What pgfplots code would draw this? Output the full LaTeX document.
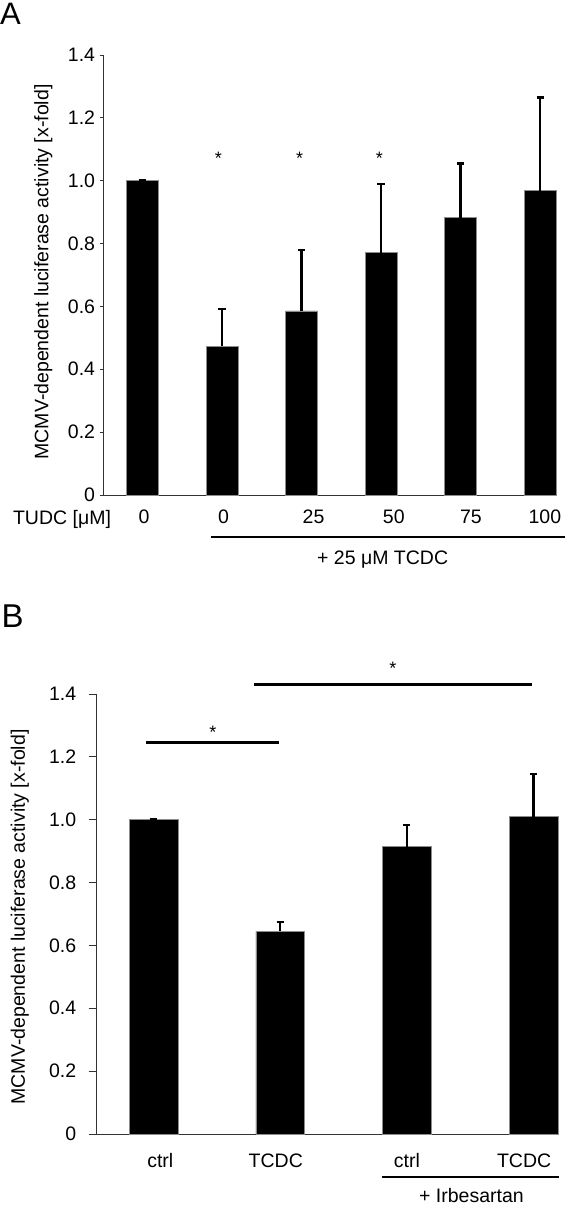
\documentclass[border=0pt]{standalone}
\usepackage{fontspec}
\setmainfont{Liberation Sans}
\usepackage{pgfplots}
\pgfplotsset{compat=1.18}
\tikzset{sigstar/.style={font=\fontsize{18}{18}\selectfont, yshift=-4pt}}
\pgfplotsset{
  mybars/.style={
    scale only axis, anchor=south west, height=440pt,
    ymin=0, ymax=1.4,
    axis x line=bottom, axis y line=left,
    axis line style={-, line width=0.8pt, black!80},
    ytick={0,0.2,0.4,0.6,0.8,1.0,1.2,1.4},
    yticklabels={0,0.2,0.4,0.6,0.8,1.0,1.2,1.4},
    tick align=outside, major tick length=4pt,
    y tick style={black!80, line width=0.8pt},
    x tick style={draw=none},
    ticklabel style={font=\fontsize{19.5}{21}\selectfont},
    xticklabel style={anchor=base, yshift=-25pt},
    clip=false, ybar,
  },
  errstyle/.style={fill=black, draw=black!45, line width=0.6pt,
    error bars/.cd, y dir=plus, y explicit,
    error bar style={line width=2.2pt, black},
    error mark options={rotate=90, mark size=3.6pt, line width=2.4pt, black}},
}
\begin{document}
\begin{tikzpicture}
\useasboundingbox (0pt,0pt) rectangle (566pt,1206pt);
% Panel letters
\node[font=\fontsize{31}{31}\selectfont, anchor=north west, inner sep=0pt] at (0pt,1202.7pt) {A};
\node[font=\fontsize{33}{33}\selectfont, anchor=north west, inner sep=0pt] at (1.5pt,601pt) {B};
% ----- Panel A -----
\begin{axis}[mybars, at={(103.6pt,711pt)}, width=452.4pt,
  xmin=-0.49, xmax=5.2, bar width=32pt,
  yticklabel style={xshift=-1pt},
  xtick={0.02,1.02,2.15,3.16,4.13,5.06}, xticklabels={0,0,25,50,75,100}]
\addplot[errstyle] coordinates {
 (0,1.0)   +- (0,0.003)
 (1,0.474) +- (0,0.118)
 (2,0.586) +- (0,0.194)
 (3,0.771) +- (0,0.218)
 (4,0.882) +- (0,0.173)
 (5,0.968) +- (0,0.297)
};
\node[sigstar] at (axis cs:0.954,1.085) {*};
\node[sigstar] at (axis cs:1.975,1.085) {*};
\node[sigstar] at (axis cs:2.98,1.085) {*};
\draw[line width=2pt] (axis cs:0.863,-0.134) -- (axis cs:5.31,-0.134);
\node[font=\fontsize{19.5}{21}\selectfont, anchor=base] at (axis cs:3.02,-0.221) {+ 25 μM TCDC};
\end{axis}
\node[font=\fontsize{19.5}{21}\selectfont, anchor=base] at (62pt,681.5pt) {TUDC [μM]};
\node[font=\fontsize{19.5}{21}\selectfont, rotate=90] at (43.3pt,934pt) {MCMV-dependent luciferase activity [x-fold]};
% ----- Panel B -----
\begin{axis}[mybars, at={(96.7pt,72pt)}, width=462.1pt,
  xmin=-0.449, xmax=3.2, bar width=48.7pt,
  major tick length=8pt, yticklabel style={xshift=-9pt},
  xtick={0.053,0.965,2.0,2.926}, xticklabels={ctrl,TCDC,ctrl,TCDC}]
\addplot[errstyle] coordinates {
 (0,1.0)   +- (0,0.003)
 (1,0.645) +- (0,0.029)
 (2,0.914) +- (0,0.069)
 (3,1.010) +- (0,0.135)
};
\draw[line width=2.5pt] (axis cs:-0.058,1.245) -- (axis cs:0.99,1.245);
\node[sigstar] at (axis cs:0.469,1.29) {*};
\draw[line width=2.5pt] (axis cs:0.797,1.431) -- (axis cs:2.99,1.431);
\node[sigstar] at (axis cs:1.89,1.494) {*};
\draw[line width=2pt] (axis cs:1.8,-0.136) -- (axis cs:3.2,-0.136);
\node[font=\fontsize{19.5}{21}\selectfont, anchor=base] at (axis cs:2.51,-0.219) {+ Irbesartan};
\end{axis}
\node[font=\fontsize{19.5}{21}\selectfont, rotate=90] at (19.9pt,289pt) {MCMV-dependent luciferase activity [x-fold]};
\end{tikzpicture}
\end{document}
